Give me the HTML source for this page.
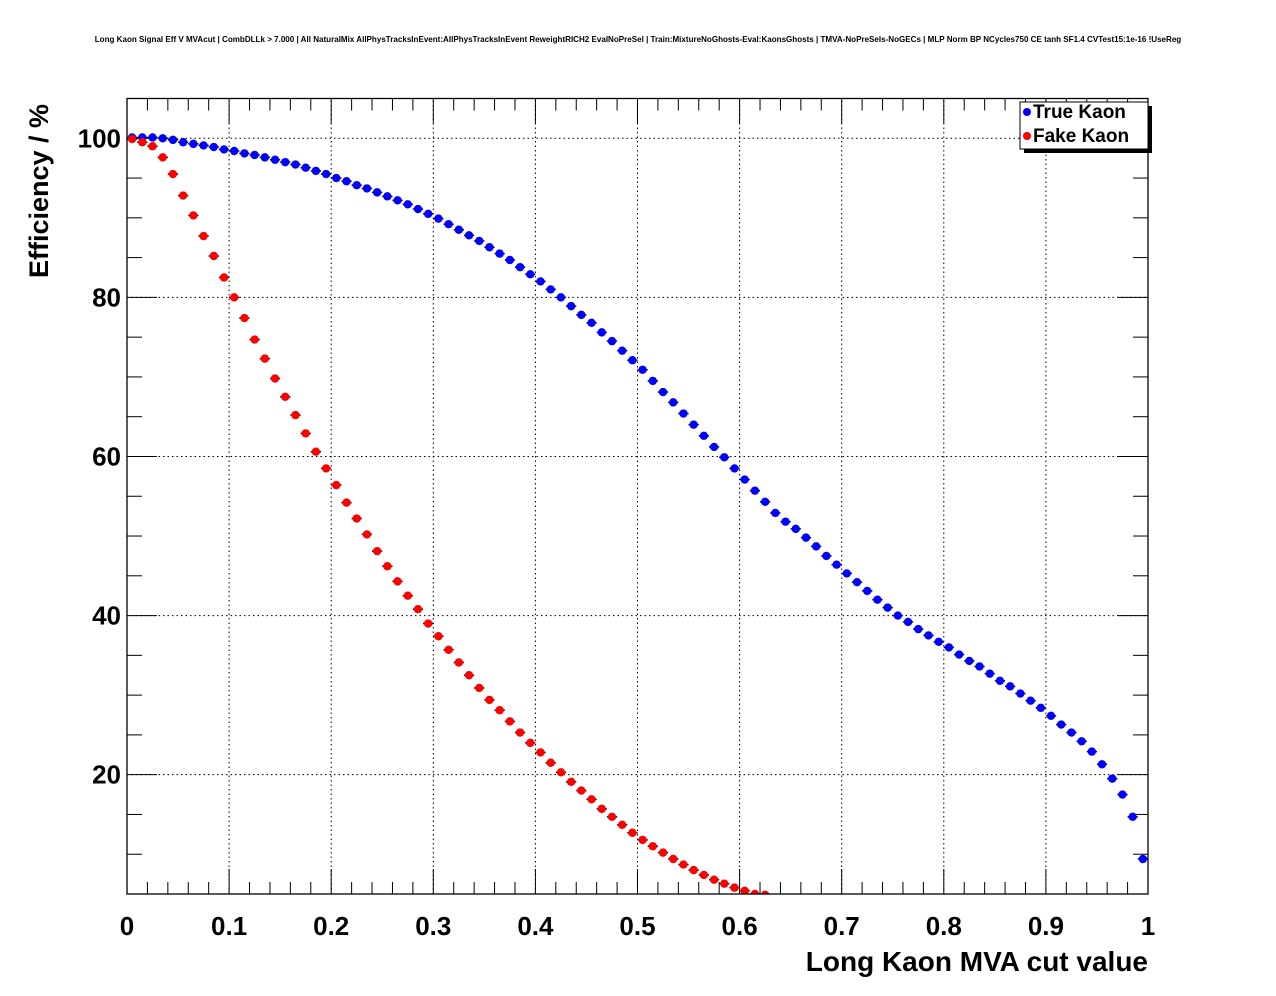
<!DOCTYPE html>
<html><head><meta charset="utf-8">
<style>
html,body{margin:0;padding:0;background:#fff;}
svg{display:block;font-family:"Liberation Sans",sans-serif;}
</style></head>
<body>
<svg id="chart" width="1276" height="996" viewBox="0 0 1276 996" xmlns="http://www.w3.org/2000/svg">
<rect width="1276" height="996" fill="#fff"/>
<text x="638" y="42" font-size="8.05" font-weight="bold" text-anchor="middle">Long Kaon Signal Eff V MVAcut | CombDLLk &gt; 7.000 | All NaturalMix AllPhysTracksInEvent:AllPhysTracksInEvent ReweightRICH2 EvalNoPreSel | Train:MixtureNoGhosts-Eval:KaonsGhosts | TMVA-NoPreSels-NoGECs | MLP Norm BP NCycles750 CE tanh SF1.4 CVTest15:1e-16 !UseReg</text>
<g id="grid"></g>
<g id="ticks"></g>
<g id="series"></g>
<rect x="127" y="98.5" width="1021" height="795.5" fill="none" stroke="#000" stroke-width="1.3"/>
<g id="labels"></g>
<text x="1148" y="971" font-size="28" font-weight="bold" text-anchor="end">Long Kaon MVA cut value</text>
<text transform="translate(48,278) rotate(-90)" font-size="27" font-weight="bold" text-anchor="start">Efficiency / %</text>
<g>
<rect x="1024" y="106" width="128" height="47" fill="#000"/>
<rect x="1020" y="102" width="128" height="47" fill="#fff" stroke="#000" stroke-width="1"/>
<circle cx="1027" cy="112" r="4" fill="#0000ff"/>
<text x="1033" y="118" font-size="19" font-weight="bold">True Kaon</text>
<circle cx="1027" cy="136" r="4" fill="#ff0000"/>
<text x="1033" y="142" font-size="19" font-weight="bold">Fake Kaon</text>
</g>
</svg>
<script>
const xTickLabels = ["0","0.1","0.2","0.3","0.4","0.5","0.6","0.7","0.8","0.9","1"];
const yTickLabels = ["20","40","60","80","100"];
const trueKaon = [100.1,100.1,100.1,100,99.8,99.5,99.3,99.1,98.9,98.6,
98.4,98.1,97.9,97.6,97.3,97.0,96.7,96.3,95.9,95.5,
95.0,94.6,94.1,93.7,93.2,92.7,92.2,91.7,91.1,90.5,
89.9,89.2,88.5,87.8,87.1,86.3,85.5,84.7,83.8,82.9,
82.0,81.0,80.0,78.9,77.8,76.8,75.6,74.5,73.3,72.1,
70.9,69.5,68.1,66.8,65.4,64.0,62.6,61.2,59.9,58.5,
57.1,55.7,54.3,52.9,51.8,50.9,49.8,48.7,47.5,46.4,
45.3,44.2,43.1,42.0,41.0,40.0,39.2,38.3,37.5,36.7,
36.0,35.1,34.3,33.6,32.7,31.8,31.1,30.2,29.3,28.4,
27.4,26.3,25.3,24.2,22.9,21.3,19.5,17.5,14.7,9.4];
const fakeKaon = [99.9,99.5,99.0,97.6,95.5,92.8,90.3,87.7,85.2,82.5,
80.0,77.4,74.7,72.3,69.8,67.5,65.2,62.9,60.6,58.5,
56.4,54.2,52.2,50.2,48.1,46.2,44.3,42.5,40.8,39.0,
37.4,35.7,34.1,32.5,30.9,29.4,28.1,26.7,25.3,24.0,
22.8,21.5,20.3,19.1,18.0,16.9,15.7,14.7,13.7,12.7,
11.8,11.0,10.2,9.4,8.7,8.0,7.4,6.8,6.3,5.8,5.4,5.0,4.9];
const X0=127,X1=1148,Y0=894,Y1=98.5,XMIN=0,XMAX=1,YMIN=5,YMAX=105,NB=100;
const sx=v=>X0+(v-XMIN)/(XMAX-XMIN)*(X1-X0);
const sy=v=>Y0-(v-YMIN)/(YMAX-YMIN)*(Y0-Y1);
const NS="http://www.w3.org/2000/svg";
function mk(tag,attrs,parent){const e=document.createElementNS(NS,tag);for(const k in attrs)e.setAttribute(k,attrs[k]);parent.appendChild(e);return e;}
const grid=document.getElementById('grid'),ticks=document.getElementById('ticks'),labels=document.getElementById('labels'),series=document.getElementById('series');
xTickLabels.forEach((t,i)=>{
  const x=sx(parseFloat(t));
  if(i>0&&i<xTickLabels.length-1){const g=mk('line',{x1:x,x2:x,y1:Y0,y2:Y1,stroke:'#000','stroke-width':1,'stroke-dasharray':'1.5,3'},grid);
  
  }
  const l=mk('text',{x:x,y:935,'font-size':26,'font-weight':'bold','text-anchor':'middle'},labels);
  l.textContent=t;
  
  
});
for(let k=0;k<=50;k++){const v=k*0.02,x=sx(v),len=(k%5==0)?25:12;
  mk('line',{x1:x,x2:x,y1:Y0,y2:Y0-len,stroke:'#000','stroke-width':1},ticks);
  mk('line',{x1:x,x2:x,y1:Y1,y2:Y1+len,stroke:'#000','stroke-width':1},ticks);}
yTickLabels.forEach(t=>{
  const y=sy(parseFloat(t));
  const g=mk('line',{x1:X0,x2:X1,y1:y,y2:y,stroke:'#000','stroke-width':1,'stroke-dasharray':'1.5,3'},grid);
  
  
  const l=mk('text',{x:121,y:y+9,'font-size':26,'font-weight':'bold','text-anchor':'end'},labels);
  l.textContent=t;
  
  
});
for(let v=5;v<=105;v+=5){const y=sy(v),len=(v%20==0)?30:15;
  mk('line',{x1:X0,x2:X0+len,y1:y,y2:y,stroke:'#000','stroke-width':1},ticks);
  mk('line',{x1:X1,x2:X1-len,y1:y,y2:y,stroke:'#000','stroke-width':1},ticks);}
const clip=mk('clipPath',{id:'pc'},document.getElementById('chart'));
mk('rect',{x:X0,y:Y1,width:X1-X0,height:Y0-Y1},clip);
function drawSeries(data,color,name){
  const g=mk('g',{'clip-path':'url(#pc)'},series);
  
  
  const w=(XMAX-XMIN)/NB;
  data.forEach((v,i)=>{
    const xc=XMIN+(i+0.5)*w, y=sy(v);
    mk('line',{x1:sx(xc-w/2),x2:sx(xc+w/2),y1:y,y2:y,stroke:'#000','stroke-width':1.5},g);
    const c=mk('circle',{cx:sx(xc),cy:y,r:4.2,fill:color},g);
    
    
  });
}
drawSeries(trueKaon,'#0000ff','true-kaon-series');
drawSeries(fakeKaon,'#ff0000','fake-kaon-series');
</script>
</body></html>
